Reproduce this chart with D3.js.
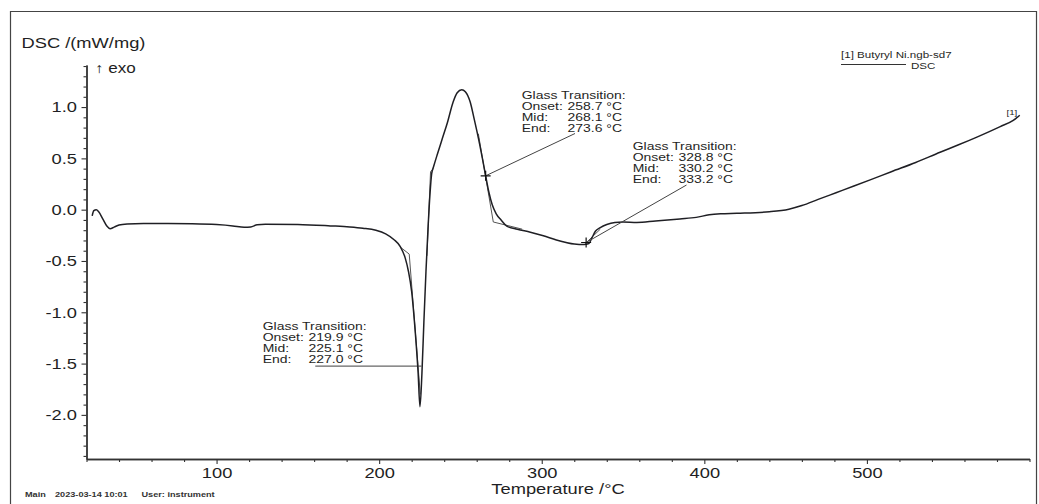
<!DOCTYPE html>
<html>
<head>
<meta charset="utf-8">
<script src="https://cdn.jsdelivr.net/npm/d3@7/dist/d3.min.js"></script>
<style>
  html, body { margin: 0; padding: 0; background: #fff; }
  svg { display: block; font-family: "Liberation Sans", Arial, sans-serif; }
</style>
</head>
<body>
<svg id="chart" width="1039" height="504"></svg>
<script>
// ---------- data ----------
const temperature = [23.5, 24.5, 26, 27.5, 30, 32.5, 34.5, 37, 40, 45, 55, 70, 85, 100, 110, 117, 121, 125, 130, 150, 170, 182, 190, 198, 204, 209, 213, 216, 218, 220, 222, 224, 225.1, 226.3, 227.5, 228.8, 230, 231.3, 232.3, 233.5, 236, 239, 242, 245.5, 248, 250.8, 253, 256, 258.5, 261, 263.5, 265.5, 267.5, 269.5, 272, 275, 278.5, 285, 293, 301, 309, 315, 320, 326, 329, 331, 333, 336, 340, 345, 350, 358.5, 370, 385, 395, 403, 410, 420, 440, 452, 460, 470, 481, 492, 502, 515, 530, 545, 556, 568, 582, 590, 594];
const dscValue = [-0.06, -0.01, 0.0, -0.02, -0.09, -0.16, -0.185, -0.17, -0.15, -0.14, -0.135, -0.135, -0.137, -0.145, -0.158, -0.172, -0.168, -0.148, -0.142, -0.145, -0.158, -0.168, -0.18, -0.2, -0.235, -0.29, -0.36, -0.47, -0.6, -0.8, -1.15, -1.6, -1.92, -1.6, -1.1, -0.6, -0.2, 0.16, 0.35, 0.42, 0.55, 0.7, 0.85, 1.05, 1.14, 1.17, 1.15, 1.05, 0.88, 0.7, 0.5, 0.33, 0.17, 0.05, -0.04, -0.1, -0.16, -0.19, -0.22, -0.255, -0.295, -0.32, -0.335, -0.34, -0.33, -0.27, -0.21, -0.175, -0.145, -0.125, -0.12, -0.125, -0.11, -0.09, -0.075, -0.05, -0.04, -0.035, -0.02, 0.005, 0.04, 0.1, 0.165, 0.23, 0.29, 0.37, 0.46, 0.56, 0.63, 0.71, 0.81, 0.87, 0.92];

const xMajorTicks = [100, 200, 300, 400, 500];
const xMinorTicks = [20, 40, 60, 80, 120, 140, 160, 180, 220, 240, 260, 280, 320, 340, 360, 380, 420, 440, 460, 480, 520, 540, 560, 580, 600];
const yMajorTicks = [-2.0, -1.5, -1.0, -0.5, 0.0, 0.5, 1.0];
const yMinorTicks = [-2.4, -2.3, -2.2, -2.1, -1.9, -1.8, -1.7, -1.6, -1.4, -1.3, -1.2, -1.1, -0.9, -0.8, -0.7, -0.6, -0.4, -0.3, -0.2, -0.1, 0.1, 0.2, 0.3, 0.4, 0.6, 0.7, 0.8, 0.9, 1.1, 1.2, 1.3, 1.4];

// glass-transition evaluations: text lines
const gtTitles = ["Glass Transition:", "Glass Transition:", "Glass Transition:"];
const gtNames = [["Onset:", "Mid:", "End:"], ["Onset:", "Mid:", "End:"], ["Onset:", "Mid:", "End:"]];
const gtValues = [["219.9 °C", "225.1 °C", "227.0 °C"], ["258.7 °C", "268.1 °C", "273.6 °C"], ["328.8 °C", "330.2 °C", "333.2 °C"]];
// markers on the curve (temperature, value)
const markerT = [265.5, 327.3];
const markerV = [0.33, -0.32];
// tangent construction lines: pairs of [T, v]
const tangentLines = [
  [[212.8, -0.362], [218.5, -0.433]],
  [[218.5, -0.433], [225.3, -1.80]],
  [[229.4, -0.45], [231.6, 0.37]],
  [[231.6, 0.37], [233.4, 0.40]],
  [[261.0, 0.74], [270.2, -0.12]],
  [[270.2, -0.12], [288.0, -0.19]],
  [[326.8, -0.33], [336.0, -0.19]]
];
// horizontal "End" line of first evaluation
const endLineT = [160.7, 226.0];
const endLineV = -1.525;

// ---------- layout ----------
const SX = 1.22; // horizontal text stretch seen in the reference
const svg = d3.select("#chart");
const x = d3.scaleLinear().domain([20, 600]).range([86.5, 1029.5]);
const y = d3.scaleLinear().domain([-2.43, 1.41]).range([459, 65]);
const ink = "#1f1f24";

// outer frame
svg.append("path")
  .attr("d", "M10.5,504 V11.5 H1036.5 V504")
  .attr("fill", "none").attr("stroke", "#444").attr("stroke-width", 1.2);

function stext(px, py, str, size, opts = {}) {
  return svg.append("text")
    .attr("transform", `translate(${px},${py}) scale(${opts.sx || SX},1)`)
    .attr("font-size", size)
    .attr("font-weight", opts.weight || "normal")
    .attr("text-anchor", opts.anchor || "start")
    .attr("fill", opts.fill || ink)
    .text(str);
}

// ---------- axes ----------
const gx = svg.append("g").attr("transform", `translate(0,${y(-2.43)})`);
gx.call(d3.axisBottom(x).tickValues(xMinorTicks).tickSize(3).tickFormat("").tickSizeOuter(0));
const gxMaj = svg.append("g").attr("transform", `translate(0,${y(-2.43)})`);
gxMaj.call(d3.axisBottom(x).tickValues(xMajorTicks).tickSize(5).tickPadding(3).tickSizeOuter(0).tickFormat(d3.format("d")));
gxMaj.selectAll("text").attr("font-size", 15).attr("fill", ink)
  .attr("font-family", "Liberation Sans, Arial, sans-serif")
  .attr("transform", `scale(${SX},1)`);

const gy = svg.append("g").attr("transform", `translate(${x(20)},0)`);
gy.call(d3.axisLeft(y).tickValues(yMinorTicks).tickSize(3).tickFormat("").tickSizeOuter(0));
const gyMaj = svg.append("g").attr("transform", `translate(${x(20)},0)`);
gyMaj.call(d3.axisLeft(y).tickValues(yMajorTicks).tickSize(5).tickPadding(4).tickSizeOuter(0).tickFormat(d => d.toFixed(1)));
gyMaj.selectAll("text").attr("font-size", 15).attr("fill", ink)
  .attr("font-family", "Liberation Sans, Arial, sans-serif")
  .attr("x", -9.5 / SX)
  .attr("transform", `scale(${SX},1)`);

[gx, gxMaj, gy, gyMaj].forEach(g => {
  g.selectAll("path.domain").attr("stroke", "#333").attr("stroke-width", 1.4);
  g.selectAll(".tick line").attr("stroke", "#333").attr("stroke-width", 1.1);
});

// axis titles
stext(21.5, 48, "DSC /(mW/mg)", 15);
stext(95, 73, "\u2191 exo", 14);
stext((x(20) + x(600)) / 2, 494, "Temperature /\u00B0C", 15, { anchor: "middle" });

// footer
stext(25, 497, "Main", 7.5, { weight: "bold", fill: "#333" });
stext(55, 497, "2023-03-14 10:01", 7.5, { weight: "bold", fill: "#333" });
stext(141.5, 497, "User: instrument", 7.5, { weight: "bold", fill: "#333" });

// legend
stext(841, 58, "[1] Butyryl Ni.ngb-sd7", 9.5);
svg.append("line").attr("x1", 841).attr("x2", 906).attr("y1", 64.5).attr("y2", 64.5)
  .attr("stroke", "#333").attr("stroke-width", 1.1);
stext(911, 68.5, "DSC", 9.5);

// ---------- tangent lines ----------
const tg = svg.append("g").attr("stroke", "#555").attr("stroke-width", 1).attr("fill", "none");
tangentLines.forEach(seg => {
  tg.append("line")
    .attr("x1", x(seg[0][0])).attr("y1", y(seg[0][1]))
    .attr("x2", x(seg[1][0])).attr("y2", y(seg[1][1]));
});
tg.append("line")
  .attr("x1", x(endLineT[0])).attr("x2", x(endLineT[1]))
  .attr("y1", y(endLineV)).attr("y2", y(endLineV)).attr("stroke", "#666").attr("stroke-width", 1.3);

// ---------- curve ----------
const pts = temperature.map((t, i) => [t, dscValue[i]]);
svg.append("path")
  .datum(pts)
  .attr("fill", "none")
  .attr("stroke", ink)
  .attr("stroke-width", 1.5)
  .attr("stroke-linejoin", "round")
  .attr("d", d3.line().x(d => x(d[0])).y(d => y(d[1])).curve(d3.curveMonotoneX));

// curve end label
stext(1006.5, 115, "[1]", 8);

// ---------- annotations ----------
const gtPos = [[262.7, 330], [521.7, 98.5], [632.7, 150]];
const lineStep = 11;
gtPos.forEach((p, k) => {
  stext(p[0], p[1], gtTitles[k], 11, { sx: 1.27 });
  gtNames[k].forEach((n, j) => {
    stext(p[0], p[1] + lineStep * (j + 1), n, 11, { sx: 1.27 });
    stext(p[0] + 45.8, p[1] + lineStep * (j + 1), gtValues[k][j], 11, { sx: 1.27 });
  });
});

// leader lines from text to markers
const leaderStart = [[575, 133.5], [686.5, 185]];
markerT.forEach((t, i) => {
  svg.append("line")
    .attr("x1", leaderStart[i][0]).attr("y1", leaderStart[i][1])
    .attr("x2", x(t)).attr("y2", y(markerV[i]))
    .attr("stroke", "#444").attr("stroke-width", 1);
  const cx = x(t), cy = y(markerV[i]);
  svg.append("path")
    .attr("d", `M${cx - 5},${cy} H${cx + 5} M${cx},${cy - 5} V${cy + 5}`)
    .attr("stroke", "#111").attr("stroke-width", 1.2);
});
</script>
</body>
</html>
